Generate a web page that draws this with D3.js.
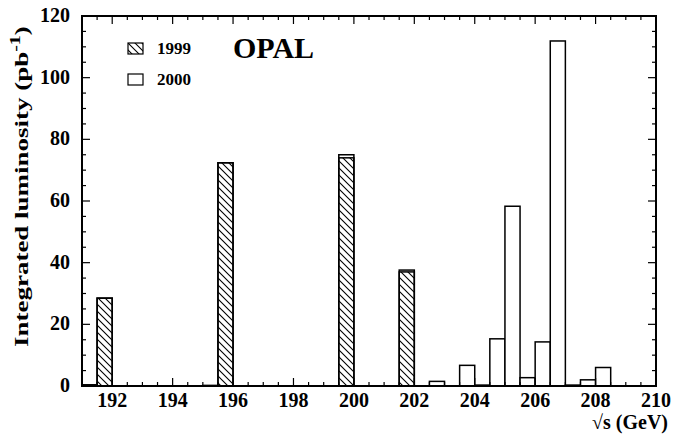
<!DOCTYPE html>
<html>
<head>
<meta charset="utf-8">
<script src="https://cdn.jsdelivr.net/npm/d3@7"></script>
<style>
  body { margin: 0; background: #fff; }
  text { font-family: "Liberation Serif", "Times New Roman", serif; font-weight: bold; }
</style>
</head>
<body>
<div id="chart-area"></div>
<script>
// bins are 0.5 GeV wide, low edge given
var binLow   = [191.0, 191.5, 195.0, 195.5, 199.5, 201.5, 202.5, 203.5, 204.0, 204.5, 205.0, 205.5, 206.0, 206.5, 207.0, 207.5, 208.0];
var lumi1999 = [0,     28.5,  0,     72.4,  74.0,  37.0,  0,     0,     0,     0,     0,     0,     0,     0,     0,     0,     0];
var lumi2000 = [0.4,   0,     0.2,   0,     1.0,   0.6,   1.5,   6.7,   0.3,   15.3,  58.3,  2.7,   14.3,  111.9, 0.3,   2.0,   6.0];
var xTicks = [192, 194, 196, 198, 200, 202, 204, 206, 208, 210];
var yTicks = [0, 20, 40, 60, 80, 100, 120];
var legendLabels = ["1999", "2000"];

var binWidth = 0.5;
var margin = {top: 16, right: 17, bottom: 48, left: 82};
var width = 673 - margin.left - margin.right;
var height = 434 - margin.top - margin.bottom;

var svg = d3.select("#chart-area")
    .append("svg")
    .attr("width", 673)
    .attr("height", 434);

svg.append("defs").append("pattern")
    .attr("id", "hatch")
    .attr("patternUnits", "userSpaceOnUse")
    .attr("width", 7)
    .attr("height", 7)
    .append("path")
    .attr("d", "M0,0 L7,7 M-1,6 L1,8 M6,-1 L8,1")
    .attr("stroke", "black")
    .attr("stroke-width", 1.1);

var g = svg.append("g")
    .attr("transform", "translate(" + margin.left + ", " + margin.top + ")");

var x = d3.scaleLinear().domain([191, 210]).range([0, width]);
var y = d3.scaleLinear().domain([0, 120]).range([height, 0]);

var bins = binLow.map((lo, i) => ({lo: lo, v99: lumi1999[i], v00: lumi2000[i]}));

// total (1999 + 2000) outline
g.selectAll("rect.total").data(bins).enter().append("rect")
    .attr("class", "total")
    .attr("x", (d) => x(d.lo))
    .attr("y", (d) => y(d.v99 + d.v00))
    .attr("width", (d) => x(d.lo + binWidth) - x(d.lo))
    .attr("height", (d) => y(0) - y(d.v99 + d.v00))
    .attr("fill", "white")
    .attr("stroke", "black")
    .attr("stroke-width", 1.5);

// 1999 hatched part
g.selectAll("rect.y99").data(bins.filter((d) => d.v99 > 0)).enter().append("rect")
    .attr("class", "y99")
    .attr("x", (d) => x(d.lo))
    .attr("y", (d) => y(d.v99))
    .attr("width", (d) => x(d.lo + binWidth) - x(d.lo))
    .attr("height", (d) => y(0) - y(d.v99))
    .attr("fill", "url(#hatch)")
    .attr("stroke", "black")
    .attr("stroke-width", 1.5);

// ticks, inward on all four sides
var xMinor = d3.range(191, 210.01, 0.5);
var yMinor = d3.range(0, 120.01, 5);
function tickLen(major) { return major ? 8 : 4; }

xMinor.forEach((v) => {
    var len = tickLen(Math.abs(v % 2) < 1e-6);
    g.append("line").attr("x1", x(v)).attr("x2", x(v)).attr("y1", height).attr("y2", height - len)
        .attr("stroke", "black").attr("stroke-width", 1.2);
    g.append("line").attr("x1", x(v)).attr("x2", x(v)).attr("y1", 0).attr("y2", len)
        .attr("stroke", "black").attr("stroke-width", 1.2);
});
yMinor.forEach((v) => {
    var len = tickLen(v % 20 === 0);
    g.append("line").attr("x1", 0).attr("x2", len).attr("y1", y(v)).attr("y2", y(v))
        .attr("stroke", "black").attr("stroke-width", 1.2);
    g.append("line").attr("x1", width).attr("x2", width - len).attr("y1", y(v)).attr("y2", y(v))
        .attr("stroke", "black").attr("stroke-width", 1.2);
});

// frame
g.append("rect")
    .attr("x", 0).attr("y", 0)
    .attr("width", width).attr("height", height)
    .attr("fill", "none")
    .attr("stroke", "black")
    .attr("stroke-width", 2);

// tick labels
g.selectAll("text.xl").data(xTicks).enter().append("text")
    .attr("class", "xl")
    .attr("x", (d) => x(d))
    .attr("y", height + 21)
    .attr("text-anchor", "middle")
    .attr("font-size", "20px")
    .text((d) => d);

g.selectAll("text.yl").data(yTicks).enter().append("text")
    .attr("class", "yl")
    .attr("x", -12)
    .attr("y", (d) => y(d) + 6)
    .attr("text-anchor", "end")
    .attr("font-size", "20px")
    .text((d) => d);

// axis titles
svg.append("text")
    .attr("x", 668)
    .attr("y", 429)
    .attr("text-anchor", "end")
    .attr("font-size", "20px")
    .text("\u221As (GeV)");

// the original title is drawn stretched along its length
var yTitle = svg.append("g")
    .attr("transform", "translate(28, 347) rotate(-90) scale(1.42, 1)")
    .append("text")
    .attr("x", 0)
    .attr("y", 0)
    .attr("font-size", "19px");
yTitle.append("tspan").text("Integrated luminosity (pb");
yTitle.append("tspan").attr("font-size", "14px").attr("dy", -8).text("-1");
yTitle.append("tspan").attr("dy", 8).text(")");

// OPAL label
svg.append("text")
    .attr("x", 233)
    .attr("y", 58)
    .attr("font-size", "30px")
    .text("OPAL");

// legend
var legend = svg.append("g");
legendLabels.forEach((lab, i) => {
    var row = legend.append("g")
        .attr("transform", "translate(128, " + (43 + 31 * i) + ")");
    row.append("rect")
        .attr("width", 15)
        .attr("height", 11)
        .attr("fill", i === 0 ? "url(#hatch)" : "white")
        .attr("stroke", "black")
        .attr("stroke-width", 1.2);
    row.append("text")
        .attr("x", 29)
        .attr("y", 11)
        .attr("font-size", "17px")
        .text(lab);
});
</script>
</body>
</html>
